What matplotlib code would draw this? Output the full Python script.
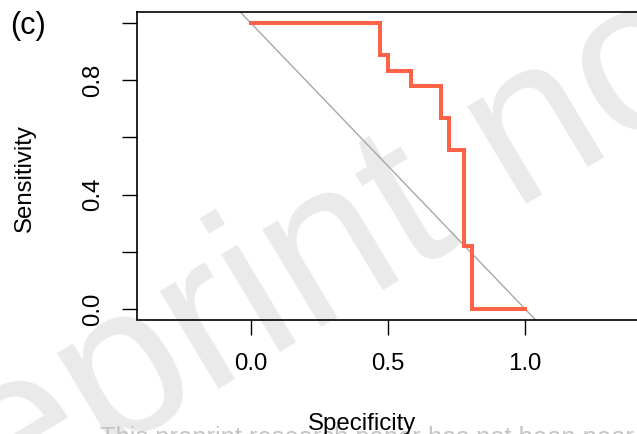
import matplotlib.pyplot as plt

plt.rcParams['font.family'] = ['Liberation Sans', 'DejaVu Sans']

# ROC curve (step corners)
specificity = [0.0, 0.472, 0.5, 0.583, 0.694, 0.722, 0.778, 0.806, 1.0]
sensitivity = [1.0, 0.889, 0.833, 0.778, 0.667, 0.556, 0.222, 0.0, 0.0]

x_ticks = [0.0, 0.5, 1.0]
x_ticklabels = ['0.0', '0.5', '1.0']
y_ticks = [0.0, 0.2, 0.4, 0.6, 0.8, 1.0]
y_ticklabels = ['0.0', '', '0.4', '', '0.8', '']

W, H = 637, 434
fig = plt.figure(figsize=(W / 100, H / 100), dpi=100)

# axes box in pixels: left 137, top 12, bottom 319, right runs off the page
left, top, bottom, right = 137, 12, 319.5, 701
ax = fig.add_axes([left / W, 1 - bottom / H, (right - left) / W, (bottom - top) / H])
ax.set_facecolor('none')

ax.axline((0, 1), (1, 0), color='#a8a8a8', lw=1.0, zorder=2)
ax.step(specificity, sensitivity, where='post', color='#ff6347', lw=2.9,
        solid_joinstyle='miter', zorder=3)

ax.set_xlim(-0.414, 1.64)
ax.set_ylim(-0.036, 1.038)

ax.set_xticks(x_ticks)
ax.set_xticklabels(x_ticklabels)
ax.set_yticks(y_ticks)
ax.set_yticklabels(y_ticklabels, rotation=90, va='center')

ax.tick_params(axis='both', length=11, width=1.0, labelsize=17.3, direction='out')
ax.tick_params(axis='x', pad=13)
ax.tick_params(axis='y', pad=13)

for side in ['left', 'top', 'bottom']:
    ax.spines[side].set_linewidth(1.2)
ax.spines['right'].set_visible(False)

fig.text(362 / W, 1 - 430 / H, 'Specificity', ha='center', va='baseline', fontsize=17.3)
fig.text(25 / W, 1 - 178 / H, 'Sensitivity', ha='center', va='center',
         rotation=90, fontsize=17.3)
fig.text(28 / W, 1 - 26 / H, '(c)', ha='center', va='center', fontsize=22)

# preprint watermark
fig.text(-183 / W, 1 - 630 / H, 'Preprint not peer reviewed', rotation=31,
         rotation_mode='anchor', ha='left', va='baseline', fontsize=155,
         color='#eaeaea', zorder=-1)
fig.text(100 / W, 1 - 426 / H, 'This preprint research paper has not been peer reviewed',
         ha='left', va='top', fontsize=18.4, color='#c4c4c4', zorder=-1)

plt.savefig('out.png', dpi=100)
